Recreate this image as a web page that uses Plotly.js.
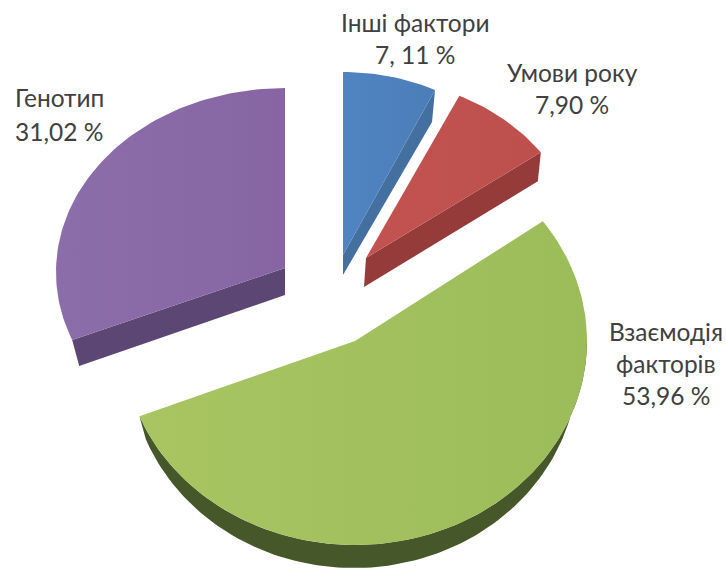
<!DOCTYPE html>
<html>
<head>
<meta charset="utf-8">
<script src="https://cdn.plot.ly/plotly-3.0.1.min.js"></script>
<style>html,body{margin:0;padding:0;background:#fff}#chart{width:726px;height:570px}</style>
</head>
<body>
<div id="chart"></div>
<script>
// Data
const categories = ['Інші фактори', 'Умови року', 'Взаємодія факторів', 'Генотип'];
const values = [7.11, 7.90, 53.96, 31.02];
const labelLines = [
  ['Інші фактори', '7, 11 %'],
  ['Умови року', '7,90 %'],
  ['Взаємодія', 'факторів', '53,96 %'],
  ['Генотип', '31,02 %']
];

// Appearance: exploded, tilted pie geometry for each slice
const centers = [[343, 255], [366, 258], [355, 341], [285, 268]];
const arcDropY = [0, 0, 0, 4];
const radiiX = [213, 216, 232, 229];
const radiiY = [183, 180, 204, 184];
const topColors = [['#4f84c2', '#4c7db8'], ['#c25350', '#bd4f4c'], ['#a8c562', '#9cbc5a'], ['#8b6ea9', '#8765a3']];
const wallColors = ['#44709f', '#953b39', '#46582a', '#5c4673'];
// which radial edge shows a side wall (0 = start edge, 1 = end edge) or the outer arc (2)
const wallEdge = [0, 0, 2, 1];
const wallApexShift = [[0, 20], [-2, 29], [0, 0], [0, 27]];
const wallOuterShift = [[-3, 32], [-3, 29], [-1, 23], [7, 26]];
const labelCenters = [[415, 22], [572, 72], [666, 331], [59, 97]];
const labelStep = [32, 32, 32, 34];

const total = values.reduce((a, b) => a + b, 0);
let cum = 0;
const traces = [];
const annotations = [];

function arc(i, t0, t1, a, b, dx, dy) {
  const n = Math.max(8, Math.round(Math.abs(t1 - t0) * 40));
  const xs = [], ys = [];
  for (let k = 0; k <= n; k++) {
    const t = t0 + (t1 - t0) * k / n;
    xs.push(centers[i][0] + dx + a * Math.sin(t));
    ys.push(centers[i][1] + arcDropY[i] + dy - b * Math.cos(t));
  }
  return [xs, ys];
}

values.forEach((v, i) => {
  const t0 = cum / total * 2 * Math.PI;
  cum += v;
  const t1 = cum / total * 2 * Math.PI;
  const [cx, cy] = centers[i];
  const a = radiiX[i], b = radiiY[i];
  const [ax, ay] = wallApexShift[i];
  const [ox, oy] = wallOuterShift[i];

  // side wall
  let wx, wy;
  if (wallEdge[i] === 2) {
    const low = arc(i, Math.PI / 2, t1, a - 8, b, ox, oy);
    const up = arc(i, Math.PI / 2, t1, a, b, 0, 0);
    wx = low[0].concat(up[0].slice().reverse());
    wy = low[1].concat(up[1].slice().reverse());
  } else {
    const te = wallEdge[i] === 0 ? t1 : t0;
    const px = cx + a * Math.sin(te), py = cy + arcDropY[i] - b * Math.cos(te);
    wx = [cx, px, px + ox, cx + ax];
    wy = [cy, py, py + oy, cy + ay];
  }
  traces.push({
    type: 'scatter', mode: 'lines', x: wx, y: wy, fill: 'toself',
    fillcolor: wallColors[i], line: {width: 0, color: wallColors[i]},
    hoverinfo: 'skip', showlegend: false
  });

  // top face
  const top = arc(i, t0, t1, a, b, 0, 0);
  traces.push({
    type: 'scatter', mode: 'lines',
    x: [cx].concat(top[0], [cx]), y: [cy].concat(top[1], [cy]),
    fill: 'toself',
    fillgradient: {type: 'horizontal', colorscale: [[0, topColors[i][0]], [1, topColors[i][1]]]},
    line: {width: 0, color: topColors[i][1]},
    name: categories[i], text: v + ' %', hoverinfo: 'name+text', showlegend: false
  });

  // labels
  labelLines[i].forEach((line, j) => {
    annotations.push({
      x: labelCenters[i][0], y: labelCenters[i][1] + j * labelStep[i],
      xref: 'x', yref: 'y', text: line, showarrow: false,
      xanchor: 'center', yanchor: 'middle',
      font: {family: 'Lato, "Open Sans", sans-serif', size: 24.5, color: '#404040'}
    });
  });
});

const layout = {
  width: 726, height: 570,
  margin: {l: 0, r: 0, t: 0, b: 0},
  paper_bgcolor: '#fff', plot_bgcolor: '#fff',
  showlegend: false,
  xaxis: {range: [0, 726], visible: false, fixedrange: true},
  yaxis: {range: [570, 0], visible: false, fixedrange: true},
  annotations: annotations
};
Plotly.newPlot('chart', traces, layout, {displayModeBar: false, responsive: false});
</script>
</body>
</html>
